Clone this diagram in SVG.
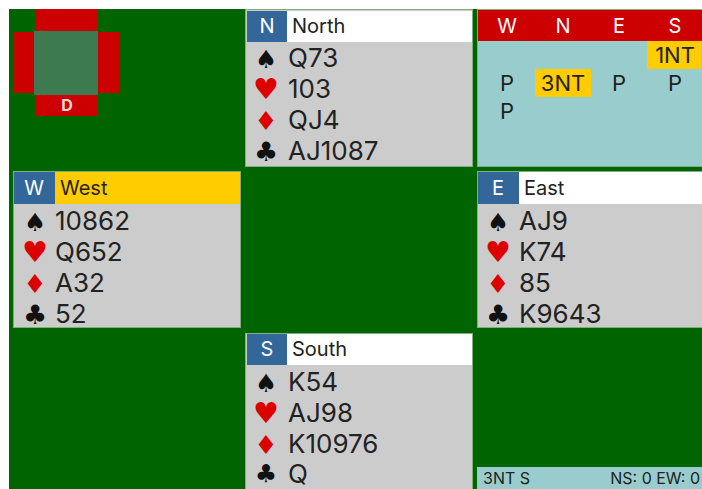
<svg xmlns="http://www.w3.org/2000/svg" width="702" height="489" viewBox="0 0 702 489">
<style>
.hand{fill:#cccccc;stroke:#7fae7f;stroke-width:1}
.seat{fill:#336699}
.hdr{fill:#ffffff}
.seatT{font-family:Inter,"DejaVu Sans",sans-serif;font-size:20px;fill:#ffffff;text-anchor:middle}
.nameT{font-family:Inter,"DejaVu Sans",sans-serif;font-size:20px;fill:#222222}
.card{font-family:Inter,"DejaVu Sans",sans-serif;font-size:26px;fill:#222222}
.suit{font-family:"DejaVu Sans",sans-serif;text-anchor:middle}
.sp{font-size:25px;fill:#111111}
.ht{font-size:29px;fill:#dd0000}
.dm{font-size:26px;fill:#dd0000}
.cl{font-size:27px;fill:#111111}
.bidH{font-family:Inter,"DejaVu Sans",sans-serif;font-size:20px;fill:#ffffff;text-anchor:middle}
.bid{font-family:Inter,"DejaVu Sans",sans-serif;font-size:22px;fill:#222222;text-anchor:middle}
.stat{font-family:Inter,"DejaVu Sans",sans-serif;font-size:16px;fill:#222222}
</style>
<rect x="0" y="0" width="702" height="489" fill="#ffffff"/>
<rect x="9" y="9" width="693" height="480" fill="#006400"/>

<g id="vulnerability">
<rect x="35" y="9" width="62" height="22" fill="#cc0000"/>
<rect x="13" y="32" width="21" height="61" fill="#cc0000"/>
<rect x="98" y="32" width="21" height="61" fill="#cc0000"/>
<rect x="35" y="95" width="62" height="21" fill="#cc0000"/>
<rect x="34" y="31" width="64" height="64" fill="#3e7a50"/>
<text x="67" y="111" font-family="Inter,DejaVu Sans,sans-serif" font-size="16" font-weight="bold" fill="#f4d8d8" text-anchor="middle">D</text>
</g>

<g id="north">
<rect class="hand" x="245.5" y="9.5" width="227" height="157"/>
<rect class="seat" x="247" y="11" width="40" height="31"/>
<rect class="hdr" x="287" y="11" width="185" height="31"/>
<text class="seatT" x="267" y="33">N</text>
<text class="nameT" x="292" y="33">North</text>
<text class="suit sp" x="266" y="68">♠</text><text class="card" x="288" y="67">Q73</text>
<text class="suit ht" x="266" y="99">♥</text><text class="card" x="288" y="98">103</text>
<text class="suit dm" x="266" y="130">♦</text><text class="card" x="288" y="129">QJ4</text>
<text class="suit cl" x="266" y="161">♣</text><text class="card" x="288" y="160">AJ1087</text>
</g>

<g id="west">
<rect class="hand" x="13.5" y="171.5" width="227" height="156"/>
<rect class="seat" x="14" y="172" width="41" height="32"/>
<rect x="55" y="172" width="185" height="32" fill="#ffcc00"/>
<text class="seatT" x="34" y="195">W</text>
<text class="nameT" x="60" y="195">West</text>
<text class="suit sp" x="35" y="231">♠</text><text class="card" x="55" y="230">10862</text>
<text class="suit ht" x="35" y="262">♥</text><text class="card" x="55" y="261">Q652</text>
<text class="suit dm" x="35" y="293">♦</text><text class="card" x="55" y="292">A32</text>
<text class="suit cl" x="35" y="324">♣</text><text class="card" x="55" y="323">52</text>
</g>

<g id="east">
<rect class="hand" x="477.5" y="171.5" width="226" height="156"/>
<rect class="seat" x="478" y="172" width="41" height="32"/>
<rect class="hdr" x="519" y="172" width="183" height="32"/>
<text class="seatT" x="498" y="195">E</text>
<text class="nameT" x="524" y="195">East</text>
<text class="suit sp" x="498" y="231">♠</text><text class="card" x="519" y="230">AJ9</text>
<text class="suit ht" x="498" y="262">♥</text><text class="card" x="519" y="261">K74</text>
<text class="suit dm" x="498" y="293">♦</text><text class="card" x="519" y="292">85</text>
<text class="suit cl" x="498" y="324">♣</text><text class="card" x="519" y="323">K9643</text>
</g>

<g id="south">
<rect class="hand" x="245.5" y="333.5" width="227" height="157"/>
<rect class="seat" x="247" y="334" width="40" height="31"/>
<rect class="hdr" x="287" y="334" width="185" height="31"/>
<text class="seatT" x="267" y="356">S</text>
<text class="nameT" x="292" y="356">South</text>
<text class="suit sp" x="266" y="392">♠</text><text class="card" x="288" y="391">K54</text>
<text class="suit ht" x="266" y="423">♥</text><text class="card" x="288" y="422">AJ98</text>
<text class="suit dm" x="266" y="454">♦</text><text class="card" x="288" y="453">K10976</text>
<text class="suit cl" x="266" y="482" style="font-size:25px">♣</text><text class="card" x="288" y="483">Q</text>
</g>

<g id="bidding">
<rect x="477.5" y="9.5" width="226" height="157" fill="#99cccc" stroke="#7fae7f" stroke-width="1"/>
<rect x="478" y="10" width="224" height="31" fill="#cc0000"/>
<text class="bidH" x="507" y="33">W</text>
<text class="bidH" x="563" y="33">N</text>
<text class="bidH" x="619" y="33">E</text>
<text class="bidH" x="675" y="33">S</text>
<rect x="647" y="41" width="54" height="28" fill="#ffcc00"/>
<text class="bid" x="675" y="63">1NT</text>
<text class="bid" x="507" y="91">P</text>
<rect x="535" y="69" width="56" height="28" fill="#ffcc00"/>
<text class="bid" x="563" y="91">3NT</text>
<text class="bid" x="619" y="91">P</text>
<text class="bid" x="675" y="91">P</text>
<text class="bid" x="507" y="119">P</text>
</g>

<g id="status">
<rect x="477" y="467" width="225" height="22" fill="#99cccc"/>
<text class="stat" x="483" y="484">3NT S</text>
<text class="stat" x="700" y="484" text-anchor="end">NS: 0 EW: 0</text>
</g>
</svg>
